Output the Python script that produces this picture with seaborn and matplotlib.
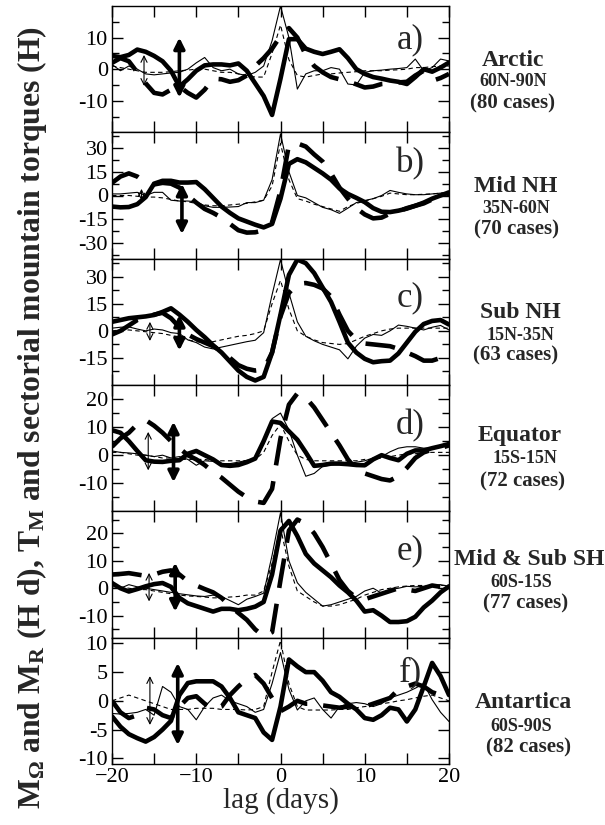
import numpy as np
import pandas as pd
import matplotlib
matplotlib.use("Agg")
import matplotlib.pyplot as plt
import seaborn as sns

# ---------------- data ----------------
LAGS = list(range(-20, 21))

# panel a) Arctic
a_thick_solid = [4.2, 3.8, 4.5, 6.2, 5.5, 4.2, 2.5, -0.5, -5.5, -3.2, -0.5, 1.2, 1.5, 1.5, 1.2, 1.8, -0.5, -4.5, -8.5, -14.5,
                 -3, 9.5, 9.5, 6.5, 5.5, 4.8, 5.5, 6.3, 3.5, 0, -1.5, -2.5, -3, -3.6, -4, -4.7, -2.5, 0, -0.8, 0.5, 2.1]
a_thick_dash = [2, 3.5, 2.5, -1, -4.5, -7.5, -8, -6.5, -5.5, -7.5, -9, -6.5, -3, -3.2, -4, -3.5, -2, 1, 3.5, 6.5,
                10.5, 13, 10, 4.5, 1, -1, -2.5, -3.2, -3.8, -4.8, -5.8, -5.5, -4.7, -4.5, -4.2, -4, -2, -0.5, -3.7, -2.8, -1.5]
a_thin_solid = [1.5, -0.5, 1, 0, -1.5, -1.8, -1.5, -1.2, -1, 0, 2, 3.7, 0.5, -0.5, 0, -1.5, -2, -1, 1, 9,
                20, 10, -6.3, -1.5, -0.5, -0.5, 0.5, 0, -4.7, -5, -1, -0.5, -0.3, 0, 0.2, 0.5, 3.2, -0.5, 0.5, 3.2, 2.6]
a_thin_dash = [1, 0.5, 0, -0.5, -1, -1, -1, -0.8, -0.5, -0.3, 0, 0, -0.5, -1, -1, -1.5, -2, -2.5, -2.5, 5,
               14, 3, -2, -2.5, -2, -1.5, -1.5, -1.2, -1, -0.8, -0.5, -0.5, -0.5, -0.3, -0.2, 0, 0.5, 0.5, 0.8, 1, 1]

# panel b) Mid NH
b_thick_solid = [-7, -7.5, -7.3, -5.5, -1, 7.5, 9.3, 9.3, 8.2, 8.2, 8.5, 4, -1.5, -7, -11, -14.5, -16.5, -18.5, -20.2, -18,
                 -2, 20, 23, 21, 17.5, 14, 10, 4.5, 1, -1.5, -4.2, -8, -10.3, -10.5, -9.6, -8.3, -6.5, -4.5, -2, 0, 2]
b_thick_dash = [8, 12, 14, 12, 8, 7, 8, 7.5, 5, 0, -4.5, -8.5, -11, -14, -18, -22, -23.5, -23.3, -22, -17,
                3, 32, 33, 31, 26, 21.5, 14, 5, -2, -8, -12, -14.5, -14, -11.5, -10, -8, -6.5, -5, -2.5, -0.5, 1]
b_thin_solid = [1, 1, 1.5, 2, 0, 2, 2, -3, -3.5, -3.5, -4, -6.5, -7.5, -7.5, -7.3, -7, -4.5, -4.5, -3, 10,
                39, 15, 0, -1.5, -4.5, -7.5, -9, -11.3, -8, -4.5, -3.2, -2, 0, 3.2, 2, 1, 0.5, 0.5, 1, 1.5, 2]
b_thin_dash = [0, 0, 0, -0.5, -1, -1, -1.5, -2.5, -3.5, -4, -5, -6, -6.5, -6.5, -6, -5.5, -5, -4, -3, 6,
               33, 10, -2, -3.5, -5.5, -7, -8.5, -10, -7, -5, -3.5, -2, -0.5, 1.5, 1, 0.5, 0.5, 0.8, 1, 1.5, 1.5]

# panel c) Sub NH
c_thick_solid = [5, 6, 7, 7.5, 8, 8.8, 10.5, 12.5, 9, 5, 0.5, -3.5, -8, -12, -17, -22, -25.5, -27.5, -25.5, -12,
                 9, 31, 39.5, 37.5, 32, 24, 16, 5, -6.5, -12, -15.5, -17.4, -16.8, -16.5, -12.5, -6.5, -0.5, 3.8, 5.5, 6, 3.5]
c_thick_dash = [-2, 0, 3, 6, 7.5, 9, 10, 7, 2, -2, -4.5, -6.5, -8.5, -11.5, -15, -19, -21, -22, -21.5, -12,
                8, 21, 26, 26.5, 25.5, 23.5, 19, 9, 0, -5, -7, -7.5, -8, -8.5, -10, -12, -14, -16.5, -16.5, -15, -12.7]
c_thin_solid = [1.5, 2, 2.2, 1, 0, 1, 0.5, -1, -1.5, -5, -6.5, -9, -10, -9, -8, -7, -6, -5.2, -1, 20,
                39.5, 21, 5, -3, -5.5, -7.5, -9, -10.5, -15.5, -8.5, -4, -2, -2.5, 0, 3.2, 2.5, 1.5, 0.5, 2, 3, 0.5]
c_thin_dash = [0, 0.5, 0.5, 0, -0.5, -1, -1.5, -2.5, -3.5, -5, -6, -6.5, -6, -5, -4, -3, -2.5, -1.5, 0, 15,
               28, 12, 0, -3, -5, -6.5, -7, -7.5, -7, -5, -3, -1.5, 0, 1, 1.5, 1.5, 1.5, 1.5, 1.5, 1.5, 1.5]

# panel d) Equator
d_thick_solid = [8.9, 8, 5, 1.5, -1.8, -2.3, -2.4, -2, -1.8, 0.5, 1.5, 0, -1.5, -3.5, -3.8, -3.5, -2.5, -1.2, 5, 12,
                 11.5, 8.5, 5.5, 1, -3.8, -3.5, -3, -3, -3.2, -3.5, -3.6, -1.5, 0, -1, -1.8, 0.5, 1.7, 1.7, 2.5, 3.2, 4]
d_thick_dash = [3, 6, 8, 11, 12.5, 10.5, 8, 5, 2.5, 0, -1.5, -3.5, -6, -8, -10.5, -13, -15, -16.5, -17, -12,
                6, 18, 22, 20.5, 17, 12.5, 8, 3.5, -1.5, -5, -6.5, -7.5, -8.5, -9, -7.5, -4.5, -1, 1, 2, 2.5, 3.5]
d_thin_solid = [1.5, 1, 0.8, 0.5, 0, -0.5, 0, -1, -0.5, -1.5, -3.6, -2, -2.2, -3, -3, -2.5, -1.8, -1.2, 4, 13,
                15, 9, 0, -7.5, -6.5, -4, -3.5, -3, -3, -2.5, -2, -1, -0.5, 1.2, 2.5, 3, 3, 2.5, 2.5, 3, 4]
d_thin_dash = [1, 1, 0.5, 0, 0, -0.5, -1, -1, -1.5, -1.5, -1.5, -1.5, -2, -2, -2, -2, -2, -1.5, 1, 7,
               11, 5, 0, -1.5, -2, -2, -2, -2, -2, -2, -1.5, -1.5, -1, -0.5, 0, 0.5, 0.5, 1, 1, 1, 1]

# panel e) Mid & Sub SH
e_thick_solid = [1.9, 0, -1.2, -0.3, 0.7, 1.5, 1.9, 0.5, -3.5, -5.5, -6.5, -7.5, -8.5, -7.5, -7.5, -8, -7.5, -6.7, -5, 5,
                 21, 24.5, 19, 12.5, 9, 6.5, 4, 1, -1.5, -4.5, -8.5, -8, -10, -12.3, -12.3, -12, -10.4, -7, -4.5, -1.5, 0.7]
e_thick_dash = [5, 5.2, 5.5, 5, 4.5, 5, 6, 6.5, 5, 2.5, 1, -0.3, -1.5, -3.5, -6.5, -9, -11.5, -15, -17.5, -16,
                3, 21, 25, 23.5, 20, 15, 9, 3, -1, -3.5, -4, -3, -2, -1, 0, -0.5, -1, 0, 1, 0.5, 0.7]
e_thin_solid = [1.3, 0, 1.3, 0.5, 0, -0.5, -1, -1.5, -2, -2.4, -2.8, -3, -2.5, -3, -4.5, -6, -4, -3, -1.8, 12,
                27.5, 10, 2, -1.5, -4, -6.5, -6, -5, -4, -3, -1, 0, -1.8, -0.5, 0, 0.7, 0.5, 0.7, 1, 1.3, 0.7]
e_thin_dash = [0.5, 0.5, 0, -0.5, -0.5, -1, -1.5, -2, -2.5, -2.8, -3, -3.2, -3.5, -3.5, -3.2, -3, -2.5, -2.5, -1, 9,
               22, 8, -1, -3, -5, -6.5, -6.5, -6, -5, -4, -2.5, -1.5, -0.5, 0, 0.5, 0.8, 1, 1, 1, 1, 1]

# panel f) Antartica
f_thick_solid = [-2.7, -4.5, -5.8, -6.5, -7.1, -6.3, -5, -3.5, 1, 3.1, 3.4, 3.4, 3.4, 2.5, 0.5, -2, -2.5, -3, -5.5, -6.8,
                 -1, 7.2, 6, 5, 5, 3.5, 1.5, 0.7, -0.5, -1.5, -3, -3.3, -2.5, -1.2, -1.5, -3.6, -1.5, 2.5, 6.6, 4.3, 1]
f_thick_dash = [0, -2, -3, -2.5, -1.2, -1.5, -2.5, -3, -1, 0.5, 0.8, -0.5, -1.5, -1, 1, 2.5, 3.8, 4.5, 3, 0.5,
                -1.8, -1, 0, -0.5, -0.5, -0.8, -1, -1.2, -1, -1, -1, -0.5, 0, 0.5, 2, 2.5, 3, 2.5, 1.5, 1, 0]
f_thin_solid = [-2.2, -2.3, -2.2, -2, -1.5, -2.5, 2.5, 1.5, -1, -1.5, -3.3, -1, 0.5, 1, 0, -0.5, -1, -2, -1.5, 3,
                8.4, 2, -1.6, 0, 0.5, -1.5, -3, -1, -0.5, -0.3, -0.5, -1, -0.5, 0.5, 1, 1.5, 2.2, 3, 0.2, -2, -3.6]
f_thin_dash = [0, 0.5, 1, 0.5, 0, -0.5, -1, -1.5, -1.5, -1.5, -1.3, -1.3, -1.3, -1.5, -1.5, -1.5, -1.6, -1.5, -1, 5,
               10.5, 3, -1, -1.6, -1.6, -1.6, -1.6, -1.5, -1.5, -1.2, -1, -0.8, -0.5, -0.3, 0, 0.2, 0.5, 0.8, 1, 0.5, 0]

# double-headed arrows: (lag, low, high)
thin_arrows = [(-16.2, -5.3, 4.5), (-16.5, -3.2, 4.2), (-15.5, -5.6, 5.0),
               (-15.7, -5.4, 8.3), (-15.6, -4.8, 5.6), (-15.5, -4.2, 4.3)]
thick_arrows = [(-12.0, -9.0, 10.0), (-11.7, -24.4, 7.4), (-12.0, -10.9, 8.8),
                (-12.7, -9.6, 11.9), (-12.5, -8.5, 9.3), (-12.2, -7.7, 6.6)]

panel_letters = ["a)", "b)", "c)", "d)", "e)", "f)"]
region_names = ["Arctic", "Mid NH", "Sub NH", "Equator", "Mid & Sub SH", "Antartica"]
region_bands = ["60N-90N", "35N-60N", "15N-35N", "15S-15N", "60S-15S", "60S-90S"]
region_cases = ["(80 cases)", "(70 cases)", "(63 cases)", "(72 cases)", "(77 cases)", "(82 cases)"]

ylims = [(-20, 20), (-40, 40), (-30, 40), (-20, 25), (-18, 28), (-11, 11)]
ymajor = [[-10, 0, 10], [-30, -15, 0, 15, 30], [-15, 0, 15, 30], [-10, 0, 10, 20], [-10, 0, 10, 20], [-10, -5, 0, 5, 10]]
yminor = [[-15, -5, 5, 15], [-37.5, -22.5, -7.5, 7.5, 22.5, 37.5], [-22.5, -7.5, 7.5, 22.5, 37.5],
          [-15, -5, 5, 15], [-15, -5, 5, 15, 25], []]

series = [
    (a_thick_solid, a_thick_dash, a_thin_solid, a_thin_dash),
    (b_thick_solid, b_thick_dash, b_thin_solid, b_thin_dash),
    (c_thick_solid, c_thick_dash, c_thin_solid, c_thin_dash),
    (d_thick_solid, d_thick_dash, d_thin_solid, d_thin_dash),
    (e_thick_solid, e_thick_dash, e_thin_solid, e_thin_dash),
    (f_thick_solid, f_thick_dash, f_thin_solid, f_thin_dash),
]

# ---------------- style ----------------
sns.set_theme(style="ticks")
plt.rcParams["font.family"] = ["Liberation Serif", "DejaVu Serif"]
plt.rcParams["mathtext.fontset"] = "custom"
plt.rcParams["mathtext.rm"] = "Liberation Serif:bold"
plt.rcParams["mathtext.bf"] = "Liberation Serif:bold"
plt.rcParams["mathtext.it"] = "Liberation Serif:bold"
plt.rcParams["axes.linewidth"] = 1.0

fig = plt.figure(figsize=(6.05, 8.25), dpi=100)
gs = fig.add_gridspec(6, 1, left=112 / 605, right=449 / 605,
                      top=1 - 6 / 825, bottom=1 - 764 / 825, hspace=0)

# label layout (pixel x-centres of the three right-hand lines, axes-fraction y of each line)
label_xpx = [(513, 513, 513), (516, 516, 516), (520, 520, 516),
             (520, 525, 523), (529, 521, 526), (523, 521, 528)]
label_y = [(0.57, 0.40, 0.23), (0.57, 0.40, 0.23), (0.57, 0.39, 0.23),
           (0.60, 0.42, 0.24), (0.62, 0.44, 0.27), (0.49, 0.30, 0.13)]
letter_y = [0.73, 0.755, 0.69, 0.68, 0.69, 0.72]

for i in range(6):
    ax = fig.add_subplot(gs[i, 0])
    ts, td, ns, nd = series[i]
    df = pd.DataFrame({"lag": LAGS, "ts": ts, "td": td, "ns": ns, "nd": nd})
    sns.lineplot(data=df, x="lag", y="nd", ax=ax, color="black", lw=0.8,
                 linestyle=(0, (4, 3)), estimator=None)
    sns.lineplot(data=df, x="lag", y="ns", ax=ax, color="black", lw=0.8, estimator=None)
    sns.lineplot(data=df, x="lag", y="td", ax=ax, color="black", lw=3.3,
                 linestyle=(0, (6.5, 3.5)), estimator=None)
    sns.lineplot(data=df, x="lag", y="ts", ax=ax, color="black", lw=3.3, estimator=None)

    xa, lo, hi = thin_arrows[i]
    ax.annotate("", xy=(xa, hi), xytext=(xa, lo),
                arrowprops=dict(arrowstyle="<->", lw=0.8, color="black",
                                mutation_scale=11, shrinkA=0, shrinkB=0))
    xa, lo, hi = thick_arrows[i]
    ax.annotate("", xy=(xa, hi), xytext=(xa, lo),
                arrowprops=dict(arrowstyle="<|-|>", lw=2.6, color="black",
                                mutation_scale=16, shrinkA=0, shrinkB=0))

    ax.set_xlim(-20, 20)
    ax.set_ylim(*ylims[i])
    ax.set_xticks([-20, -10, 0, 10, 20])
    ax.set_xticks([-15, -5, 5, 15], minor=True)
    ax.set_yticks(ymajor[i])
    ax.set_yticks(yminor[i], minor=True)
    ax.set_yticklabels([f"{v:g}" for v in ymajor[i]])
    ax.tick_params(axis="both", which="both", direction="in", top=True, right=True,
                   width=1.0, labelsize=16, colors="black", pad=3)
    ax.tick_params(axis="both", which="major", length=8)
    ax.tick_params(axis="y", which="minor", length=5)
    ax.tick_params(axis="x", which="minor", length=8)
    ax.set_xlabel("")
    ax.set_ylabel("")
    if i < 5:
        ax.tick_params(axis="x", labelbottom=False)
    else:
        ax.set_xlabel("lag (days)", fontsize=21, labelpad=0)
    for sp in ax.spines.values():
        sp.set_linewidth(1.0)
        sp.set_color("black")

    ax.text(0.885, letter_y[i], panel_letters[i], transform=ax.transAxes, fontsize=25,
            ha="center", va="center")

    # right-side region labels
    lines = [(region_names[i], 17), (region_bands[i], 13), (region_cases[i], 15)]
    for j, (txt, fs) in enumerate(lines):
        xf = (label_xpx[i][j] - 112) / 337
        ax.text(xf, label_y[i][j], txt, transform=ax.transAxes,
                fontsize=fs, fontweight="bold", ha="center", va="center")

fig.text(32 / 605, 0.494,
         r"M$_{\Omega}$ and M$_{R}$ (H d), T$_{M}$ and sectorial mountain torques (H)",
         rotation=90, ha="center", va="center", fontsize=22.8, fontweight="bold")

fig.savefig("out.png", dpi=100, facecolor="white")
